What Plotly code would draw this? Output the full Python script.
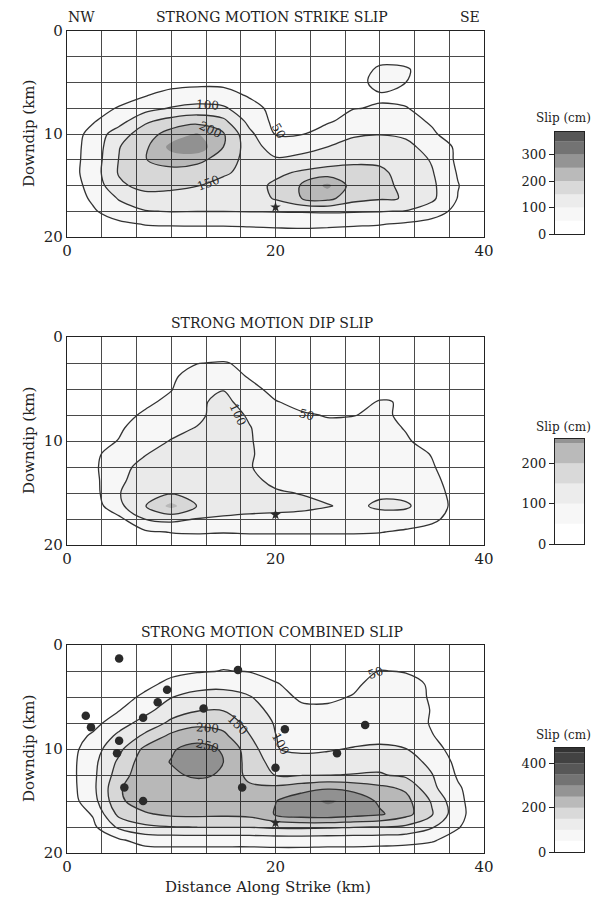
import plotly.graph_objects as go

# ---------------- data ----------------
X_KM = [0, 2.5, 5, 7.5, 10, 12.5, 15, 17.5, 20, 22.5, 25, 27.5, 30, 32.5, 35, 37.5, 40]
Y_KM = [0, 1.25, 2.5, 3.75, 5, 6.25, 7.5, 8.75, 10, 11.25, 12.5, 13.75, 15, 16.25, 17.5, 18.75, 20]

STRIKE_SLIP = [
    [5, 5, 8, 10, 12, 14, 14, 12, 10, 10, 10, 12, 15, 15, 12, 8, 5],
    [6, 8, 10, 14, 18, 20, 20, 16, 12, 12, 12, 15, 22, 22, 16, 10, 6],
    [8, 10, 14, 20, 26, 30, 28, 22, 16, 15, 16, 22, 38, 36, 24, 12, 8],
    [10, 14, 20, 28, 34, 36, 35, 30, 22, 20, 22, 32, 56, 54, 32, 16, 10],
    [12, 18, 26, 36, 38, 40, 40, 36, 26, 24, 28, 38, 60, 50, 34, 18, 10],
    [14, 24, 35, 48, 62, 70, 66, 46, 32, 30, 34, 42, 47, 44, 34, 20, 12],
    [18, 35, 53, 80, 104, 115, 108, 65, 38, 36, 42, 49, 52, 51, 42, 25, 14],
    [22, 46, 80, 142, 168, 182, 162, 85, 38, 38, 46, 62, 68, 62, 46, 28, 14],
    [22, 66, 128, 175, 222, 255, 205, 112, 48, 48, 66, 92, 98, 90, 55, 32, 14],
    [28, 68, 148, 190, 265, 285, 200, 125, 76, 86, 100, 122, 130, 115, 78, 42, 14],
    [26, 72, 152, 198, 225, 215, 175, 132, 106, 112, 125, 138, 142, 128, 96, 40, 12],
    [26, 75, 155, 185, 180, 172, 158, 132, 138, 158, 172, 170, 158, 135, 104, 46, 12],
    [22, 68, 140, 168, 162, 152, 132, 128, 160, 205, 262, 175, 162, 140, 110, 52, 12],
    [18, 58, 104, 128, 130, 125, 115, 120, 155, 200, 215, 168, 155, 148, 110, 48, 10],
    [12, 44, 78, 98, 102, 101, 101, 102, 103, 104, 106, 104, 102, 98, 75, 35, 8],
    [8, 22, 40, 52, 54, 54, 54, 56, 58, 60, 58, 55, 52, 44, 32, 18, 6],
    [4, 10, 18, 24, 26, 28, 28, 28, 30, 30, 28, 26, 24, 20, 14, 8, 4],
]

DIP_SLIP = [
    [3, 4, 6, 8, 12, 16, 18, 16, 12, 10, 8, 8, 8, 8, 6, 4, 3],
    [4, 6, 8, 12, 20, 30, 34, 28, 18, 12, 10, 10, 10, 10, 8, 5, 3],
    [5, 8, 12, 18, 32, 49, 52, 44, 28, 18, 14, 12, 12, 12, 10, 6, 4],
    [6, 10, 16, 24, 44, 65, 70, 46, 32, 22, 16, 14, 14, 14, 12, 8, 5],
    [8, 14, 22, 34, 48, 85, 98, 62, 38, 28, 22, 22, 38, 40, 20, 10, 6],
    [10, 18, 30, 42, 60, 92, 112, 80, 52, 40, 32, 40, 52, 48, 26, 12, 7],
    [12, 22, 36, 56, 80, 90, 120, 95, 70, 54, 48, 49, 56, 44, 28, 14, 8],
    [14, 28, 44, 72, 88, 102, 125, 102, 78, 62, 58, 60, 62, 48, 32, 16, 9],
    [16, 32, 52, 84, 102, 112, 128, 103, 82, 68, 64, 66, 68, 54, 36, 18, 10],
    [18, 38, 76, 98, 118, 122, 130, 104, 84, 72, 68, 70, 72, 68, 48, 22, 10],
    [20, 40, 88, 112, 122, 124, 128, 102, 86, 78, 74, 74, 76, 72, 54, 24, 10],
    [20, 36, 92, 120, 130, 132, 130, 110, 90, 88, 82, 80, 80, 78, 62, 28, 10],
    [18, 32, 98, 130, 145, 142, 128, 115, 105, 98, 90, 86, 94, 88, 70, 32, 10],
    [14, 24, 88, 148, 215, 148, 125, 118, 115, 112, 102, 92, 106, 106, 76, 34, 10],
    [10, 20, 38, 102, 115, 98, 92, 88, 86, 82, 78, 76, 84, 80, 62, 26, 8],
    [6, 12, 22, 42, 52, 54, 52, 54, 54, 54, 54, 54, 52, 42, 30, 14, 6],
    [3, 6, 10, 18, 24, 26, 26, 26, 26, 26, 26, 26, 24, 20, 14, 8, 4],
]

COMBINED_SLIP = [
    [6, 8, 12, 16, 22, 28, 30, 28, 24, 22, 20, 22, 28, 28, 22, 12, 6],
    [8, 12, 18, 24, 32, 38, 42, 40, 32, 26, 24, 28, 38, 38, 28, 14, 8],
    [10, 16, 24, 32, 42, 46, 51, 48, 40, 32, 30, 38, 51, 48, 34, 18, 9],
    [12, 20, 30, 42, 58, 78, 82, 70, 52, 40, 38, 44, 62, 60, 46, 22, 10],
    [14, 24, 38, 56, 98, 120, 124, 104, 64, 44, 44, 52, 70, 66, 46, 24, 11],
    [16, 30, 48, 84, 128, 146, 148, 124, 82, 58, 56, 60, 76, 72, 48, 26, 12],
    [18, 34, 78, 120, 160, 188, 180, 135, 96, 68, 62, 66, 80, 76, 46, 28, 13],
    [22, 58, 112, 160, 212, 228, 212, 152, 101, 78, 74, 78, 86, 82, 52, 30, 14],
    [26, 78, 138, 212, 245, 268, 245, 175, 102, 90, 94, 104, 108, 101, 64, 34, 15],
    [28, 86, 160, 228, 252, 300, 250, 180, 130, 120, 125, 130, 135, 118, 90, 36, 16],
    [28, 88, 175, 235, 242, 258, 245, 185, 148, 148, 149, 152, 154, 140, 102, 44, 16],
    [26, 88, 195, 232, 238, 228, 218, 210, 212, 228, 245, 232, 212, 192, 112, 56, 16],
    [24, 80, 192, 225, 235, 222, 210, 212, 248, 285, 305, 290, 240, 215, 145, 62, 15],
    [18, 54, 165, 195, 210, 212, 210, 215, 255, 280, 285, 272, 258, 218, 155, 66, 14],
    [12, 40, 110, 140, 148, 151, 152, 152, 158, 160, 158, 152, 149, 140, 105, 54, 10],
    [6, 20, 44, 70, 72, 72, 72, 72, 74, 74, 72, 72, 70, 66, 56, 28, 6],
    [3, 8, 18, 28, 30, 30, 30, 30, 32, 32, 30, 30, 28, 26, 20, 10, 3],
]

STATION_X = [5.0, 16.4, 9.6, 8.7, 13.1, 1.8, 2.3, 7.3, 5.0, 4.8, 20.9, 28.6, 25.9, 20.0, 5.5, 16.8, 7.3]
STATION_Y = [1.3, 2.4, 4.3, 5.5, 6.1, 6.8, 7.9, 7.0, 9.2, 10.4, 8.1, 7.7, 10.4, 11.8, 13.7, 13.7, 15.0]
HYPO_X = [20.0]
HYPO_Y = [17.1]

PANEL_TITLES = ["STRONG MOTION STRIKE SLIP", "STRONG MOTION DIP SLIP", "STRONG MOTION COMBINED SLIP"]
PANEL_DATA = [STRIKE_SLIP, DIP_SLIP, COMBINED_SLIP]
LINE_MAX = [200, 150, 250]          # highest contour line drawn per panel
CB_MAX = [385, 260, 470]            # top of each colour bar (cm)
CB_TICKS = [[0, 100, 200, 300], [0, 100, 200], [0, 200, 400]]

SHADE_START, SHADE_END, SHADE_STEP = 50, 450, 50
# target darkness of each slip band (below 50, 50-100, ..., above 450)
SHADE_TARGET = [0.0, 0.03, 0.075, 0.15, 0.27, 0.42, 0.55, 0.66, 0.74, 0.80]

# (panel, text, x km, y km, angle)
CONTOUR_LABELS = [
    (0, "100", 13.5, 7.2, 4), (0, "200", 13.8, 9.6, 25), (0, "150", 13.6, 14.8, -20), (0, "50", 20.3, 9.7, 60),
    (1, "100", 16.4, 7.5, 65), (1, "50", 23.0, 7.5, 15),
    (2, "50", 29.6, 2.7, -20), (2, "200", 13.5, 8.0, 4), (2, "250", 13.5, 9.7, 15),
    (2, "150", 16.4, 7.7, 45), (2, "100", 20.5, 9.5, 62),
]

# ---------------- layout geometry (pixels in the 601 x 898 window) ----------------
PAGE_W, PAGE_H = 601, 898
OFF = 8                      # the page body margin that surrounds the plot div
W, H = PAGE_W - 2 * OFF, PAGE_H - OFF
PL, PR = 67, 484
PANEL_TOP = [31, 337, 645]
PANEL_BOT = [237, 545, 853]
CBL, CBR = 555, 584
CB_TOP = [132, 439, 748]
CB_BOT = [234, 544, 852]
TITLE_Y = [17, 323, 632]
CBTITLE_Y = [118, 427, 735]

SERIF = "DejaVu Serif"
INK = "#222222"


def px(x):
    return (x - OFF) / W


def py(y):
    return 1 - (y - OFF) / H


def shade(a):
    return "rgba(0,0,0,%.4f)" % a


def page_text(text, x, y, size, angle=0):
    return dict(text=text, x=px(x), y=py(y), xref="paper", yref="paper", showarrow=False,
                xanchor="center", yanchor="middle", textangle=angle,
                font=dict(family=SERIF, size=size, color=INK))


# plotly stacks the fill of every level on top of the lower ones, so the
# per-layer opacity is chosen so the stacked result equals the target darkness
layer_alpha = [SHADE_TARGET[0]]
for k in range(1, len(SHADE_TARGET)):
    layer_alpha.append(1 - (1 - SHADE_TARGET[k]) / (1 - SHADE_TARGET[k - 1]))

nc = (SHADE_END - SHADE_START) // SHADE_STEP + 1
colorscale = [[k / nc, shade(layer_alpha[k])] for k in range(nc + 1)]

grid_x = [i * 40 / 12 for i in range(13)]
grid_xt = ["0" if i == 0 else "20" if i == 6 else "40" if i == 12 else "" for i in range(13)]
grid_y = [i * 2.5 for i in range(9)]
grid_yt = ["0" if i == 0 else "10" if i == 4 else "20" if i == 8 else "" for i in range(9)]

fig = go.Figure()
layout = dict(
    width=W, height=H, margin=dict(l=0, r=0, t=0, b=0, autoexpand=False),
    paper_bgcolor="white", plot_bgcolor="white", showlegend=False,
    barmode="overlay", font=dict(family=SERIF, color=INK),
)
annotations = []

for p in range(3):
    xa = "x" if p == 0 else "x%d" % (p + 1)
    ya = "y" if p == 0 else "y%d" % (p + 1)
    z = PANEL_DATA[p]
    fig.add_trace(go.Contour(
        x=X_KM, y=Y_KM, z=z, xaxis=xa, yaxis=ya, autocontour=False,
        contours=dict(start=SHADE_START, end=SHADE_END, size=SHADE_STEP, coloring="fill", showlines=False),
        colorscale=colorscale, showscale=False, line=dict(width=0, smoothing=1), hoverinfo="skip",
    ))
    fig.add_trace(go.Contour(
        x=X_KM, y=Y_KM, z=z, xaxis=xa, yaxis=ya, autocontour=False,
        contours=dict(start=50, end=LINE_MAX[p], size=50, coloring="none"),
        line=dict(color="#333333", width=1.3, smoothing=1), showscale=False, hoverinfo="skip",
    ))
    if p == 2:
        fig.add_trace(go.Scatter(
            x=STATION_X, y=STATION_Y, mode="markers", xaxis=xa, yaxis=ya,
            marker=dict(size=8.5, color="#2a2a2a"), hoverinfo="skip",
        ))
    fig.add_trace(go.Scatter(
        x=HYPO_X, y=HYPO_Y, mode="markers", xaxis=xa, yaxis=ya,
        marker=dict(symbol="star", size=8, color="#2a2a2a"), hoverinfo="skip",
    ))

    axis_common = dict(showline=True, linecolor="#222", linewidth=1.3, mirror=True, automargin=False,
                       showgrid=True, gridcolor="#4a4a4a", gridwidth=1.1, zeroline=False,
                       ticks="", tickfont=dict(family=SERIF, size=15, color=INK), layer="above traces")
    layout["xaxis" if p == 0 else "xaxis%d" % (p + 1)] = dict(
        axis_common, domain=[px(PL), px(PR)], range=[0, 40], anchor=ya,
        tickmode="array", tickvals=grid_x, ticktext=grid_xt)
    layout["yaxis" if p == 0 else "yaxis%d" % (p + 1)] = dict(
        axis_common, domain=[py(PANEL_BOT[p]), py(PANEL_TOP[p])], range=[20, 0], anchor=xa,
        tickmode="array", tickvals=grid_y, ticktext=grid_yt)

    # colour bar drawn as stacked bar segments on its own small axis
    cxa = "x%d" % (p + 4)
    cya = "y%d" % (p + 4)
    edges = [0] + [SHADE_START + i * SHADE_STEP for i in range(nc)]
    bases, heights, cols = [], [], []
    for k, lo in enumerate(edges):
        hi = edges[k + 1] if k + 1 < len(edges) else 10 ** 6
        hi = min(hi, CB_MAX[p])
        if lo >= CB_MAX[p]:
            break
        bases.append(lo)
        heights.append(hi - lo)
        cols.append(shade(SHADE_TARGET[k]))
    fig.add_trace(go.Bar(
        x=[0] * len(bases), y=heights, base=bases, width=1, xaxis=cxa, yaxis=cya,
        marker=dict(color=cols, line=dict(width=0)), hoverinfo="skip",
    ))
    layout["xaxis%d" % (p + 4)] = dict(
        domain=[px(CBL), px(CBR)], range=[-0.5, 0.5], anchor=cya, showline=True, mirror=True, automargin=False,
        linecolor="#222", linewidth=1.2, showgrid=False, zeroline=False, showticklabels=False, ticks="",
        layer="above traces")
    layout["yaxis%d" % (p + 4)] = dict(
        domain=[py(CB_BOT[p]), py(CB_TOP[p])], range=[0, CB_MAX[p]], anchor=cxa, showline=True, mirror=True,
        automargin=False, linecolor="#222", linewidth=1.2, showgrid=False, zeroline=False, ticks="outside",
        ticklen=5, tickcolor="#222", tickvals=CB_TICKS[p], tickfont=dict(family=SERIF, size=13, color=INK),
        layer="above traces")

    annotations.append(page_text(PANEL_TITLES[p], 272, TITLE_Y[p], 14))
    annotations.append(page_text("Downdip (km)", 29, (PANEL_TOP[p] + PANEL_BOT[p]) / 2, 15, -90))
    annotations.append(page_text("Slip (cm)", 563, CBTITLE_Y[p], 12))

annotations.append(page_text("NW", 81, 17, 14))
annotations.append(page_text("SE", 470, 17, 14))
annotations.append(page_text("Distance Along Strike (km)", 268, 887, 15))

for (p, txt, lx, ly, ang) in CONTOUR_LABELS:
    annotations.append(dict(text=txt, x=lx, y=ly, xref="x" if p == 0 else "x%d" % (p + 1),
                            yref="y" if p == 0 else "y%d" % (p + 1), showarrow=False, textangle=ang,
                            xanchor="center", yanchor="middle",
                            font=dict(family=SERIF, size=12, color="#2a2a2a")))

layout["annotations"] = annotations
fig.update_layout(**layout)
fig.write_html("out.html")
